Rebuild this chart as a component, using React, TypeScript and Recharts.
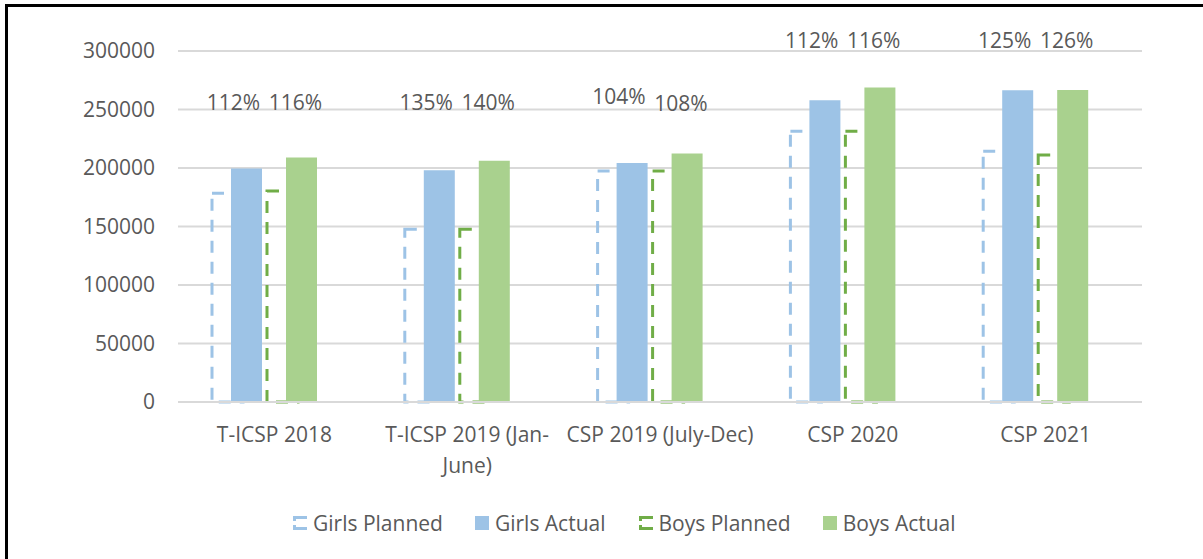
import { ComposedChart, Bar, Line, XAxis, YAxis, CartesianGrid, LabelList } from "recharts";

const categories = ["T-ICSP 2018", "T-ICSP 2019 (Jan-June)", "CSP 2019 (July-Dec)", "CSP 2020", "CSP 2021"];
const tickLines = [["T-ICSP 2018"], ["T-ICSP 2019 (Jan-", "June)"], ["CSP 2019 (July-Dec)"], ["CSP 2020"], ["CSP 2021"]];

const girlsPlanned = [178400, 147600, 197400, 231400, 214300];
const girlsActual  = [199500, 198000, 204300, 257900, 266400];
const boysPlanned  = [180300, 147600, 197400, 231400, 211100];
const boysActual   = [208900, 206300, 212300, 268700, 266700];

const girlsPct = ["112%", "135%", "104%", "112%", "125%"];
const boysPct  = ["116%", "140%", "108%", "116%", "126%"];
// value the % label sits on top of
const girlsPctAt = [240800, 240800, 245900, 293800, 293800];
const boysPctAt  = [240800, 240800, 240200, 293800, 293800];

const yTicks = [0, 50000, 100000, 150000, 200000, 250000, 300000];

const BLUE = "#9DC3E6";
const GREEN = "#A9D18E";
const DARK_GREEN = "#70AD47";
const TEXT = "#595959";
const FONT = "'Open Sans', sans-serif";

const data = categories.map((cat, i) => ({
  cat,
  girlsPlanned: girlsPlanned[i],
  girlsActual: girlsActual[i],
  boysPlanned: boysPlanned[i],
  boysActual: boysActual[i],
  girlsPct: girlsPct[i],
  boysPct: boysPct[i],
  girlsPctAt: girlsPctAt[i],
  boysPctAt: boysPctAt[i],
}));

const legendItems = [
  { name: "Girls Planned", color: BLUE, planned: true },
  { name: "Girls Actual", color: BLUE, planned: false },
  { name: "Boys Planned", color: DARK_GREEN, planned: true },
  { name: "Boys Actual", color: GREEN, planned: false },
];

const CatTick = ({ x, y, payload }: any) => {
  const lines = tickLines[categories.indexOf(payload.value)] || [payload.value];
  return (
    <text x={x} y={y + 38} textAnchor="middle" fontFamily={FONT} fontSize={21} fill={TEXT}>
      {lines.map((l, i) => (
        <tspan key={i} x={x} dy={i === 0 ? 0 : 31}>{l}</tspan>
      ))}
    </text>
  );
};

const pctLabel = (dx: number) => (props: any) => {
  const vb = props.viewBox || {};
  const x = vb.x ?? props.x;
  const y = vb.y ?? props.y;
  return (
    <text x={x + dx} y={y - 10} textAnchor="middle" fontFamily={FONT} fontSize={21} fill={TEXT}>
      {props.value}
    </text>
  );
};

export default function App() {
  return (
    <div style={{ position: "absolute", left: 0, top: 0, width: 1203, height: 559, overflow: "hidden", background: "#fff" }}>
      <div style={{ position: "absolute", left: 5, top: 4, right: -20, bottom: -20, borderLeft: "3px solid #000", borderTop: "3px solid #000" }} />
      <ComposedChart width={1203} height={559} data={data} barGap={24}
        margin={{ top: 51, right: 61, left: 0, bottom: 0 }}>
        <CartesianGrid vertical={false} stroke="#D9D9D9" strokeWidth={2} />
        <XAxis xAxisId="a" dataKey="cat" height={157} tickSize={0} tickLine={false}
          axisLine={{ stroke: "#D9D9D9", strokeWidth: 2 }} tick={<CatTick />} interval={0} />
        <XAxis xAxisId="p" dataKey="cat" hide />
        <YAxis width={178} domain={[0, 300000]} ticks={yTicks} axisLine={false} tickLine={false}
          tickSize={0} tickMargin={23}
          tick={{ fontFamily: FONT, fontSize: 21, fill: TEXT }} />

        {/* planned (dashed outlines) sit behind, shifted left via their own axis group */}
        <Bar xAxisId="p" dataKey="girlsPlanned" name="Girls Planned" barSize={31} fill="none"
          stroke={BLUE} strokeWidth={3} strokeDasharray="12 9" isAnimationActive={false} />
        <Bar xAxisId="p" dataKey="boysPlanned" name="Boys Planned" barSize={31} fill="none"
          stroke={DARK_GREEN} strokeWidth={3} strokeDasharray="12 9" isAnimationActive={false} />
        <Bar xAxisId="p" dataKey="spacer" barSize={15} fill="none" legendType="none" isAnimationActive={false} />

        <Bar xAxisId="a" dataKey="girlsActual" name="Girls Actual" barSize={31} fill={BLUE} isAnimationActive={false} />
        <Bar xAxisId="a" dataKey="boysActual" name="Boys Actual" barSize={31} fill={GREEN} isAnimationActive={false} />

        <Line xAxisId="a" dataKey="girlsPctAt" stroke="none" dot={false} activeDot={false}
          legendType="none" isAnimationActive={false}>
          <LabelList dataKey="girlsPct" content={pctLabel(-41)} />
        </Line>
        <Line xAxisId="a" dataKey="boysPctAt" stroke="none" dot={false} activeDot={false}
          legendType="none" isAnimationActive={false}>
          <LabelList dataKey="boysPct" content={pctLabel(21)} />
        </Line>
      </ComposedChart>

      <div style={{ position: "absolute", left: 292, top: 510, height: 26, display: "flex", alignItems: "center",
        fontFamily: FONT, fontSize: 21, color: TEXT }}>
        {legendItems.map((it, i) => (
          <div key={it.name} style={{ display: "flex", alignItems: "center", marginLeft: i === 0 ? 0 : 32 }}>
            {it.planned ? (
              <svg width={16} height={16} style={{ marginRight: 5 }}>
                <path d="M15 2.5 H2.5 V6" fill="none" stroke={it.color} strokeWidth={3} />
                <path d="M2.5 10 V13.5 H15" fill="none" stroke={it.color} strokeWidth={3} />
              </svg>
            ) : (
              <div style={{ width: 14, height: 14, background: it.color, marginRight: 6 }} />
            )}
            <span>{it.name}</span>
          </div>
        ))}
      </div>
    </div>
  );
}
